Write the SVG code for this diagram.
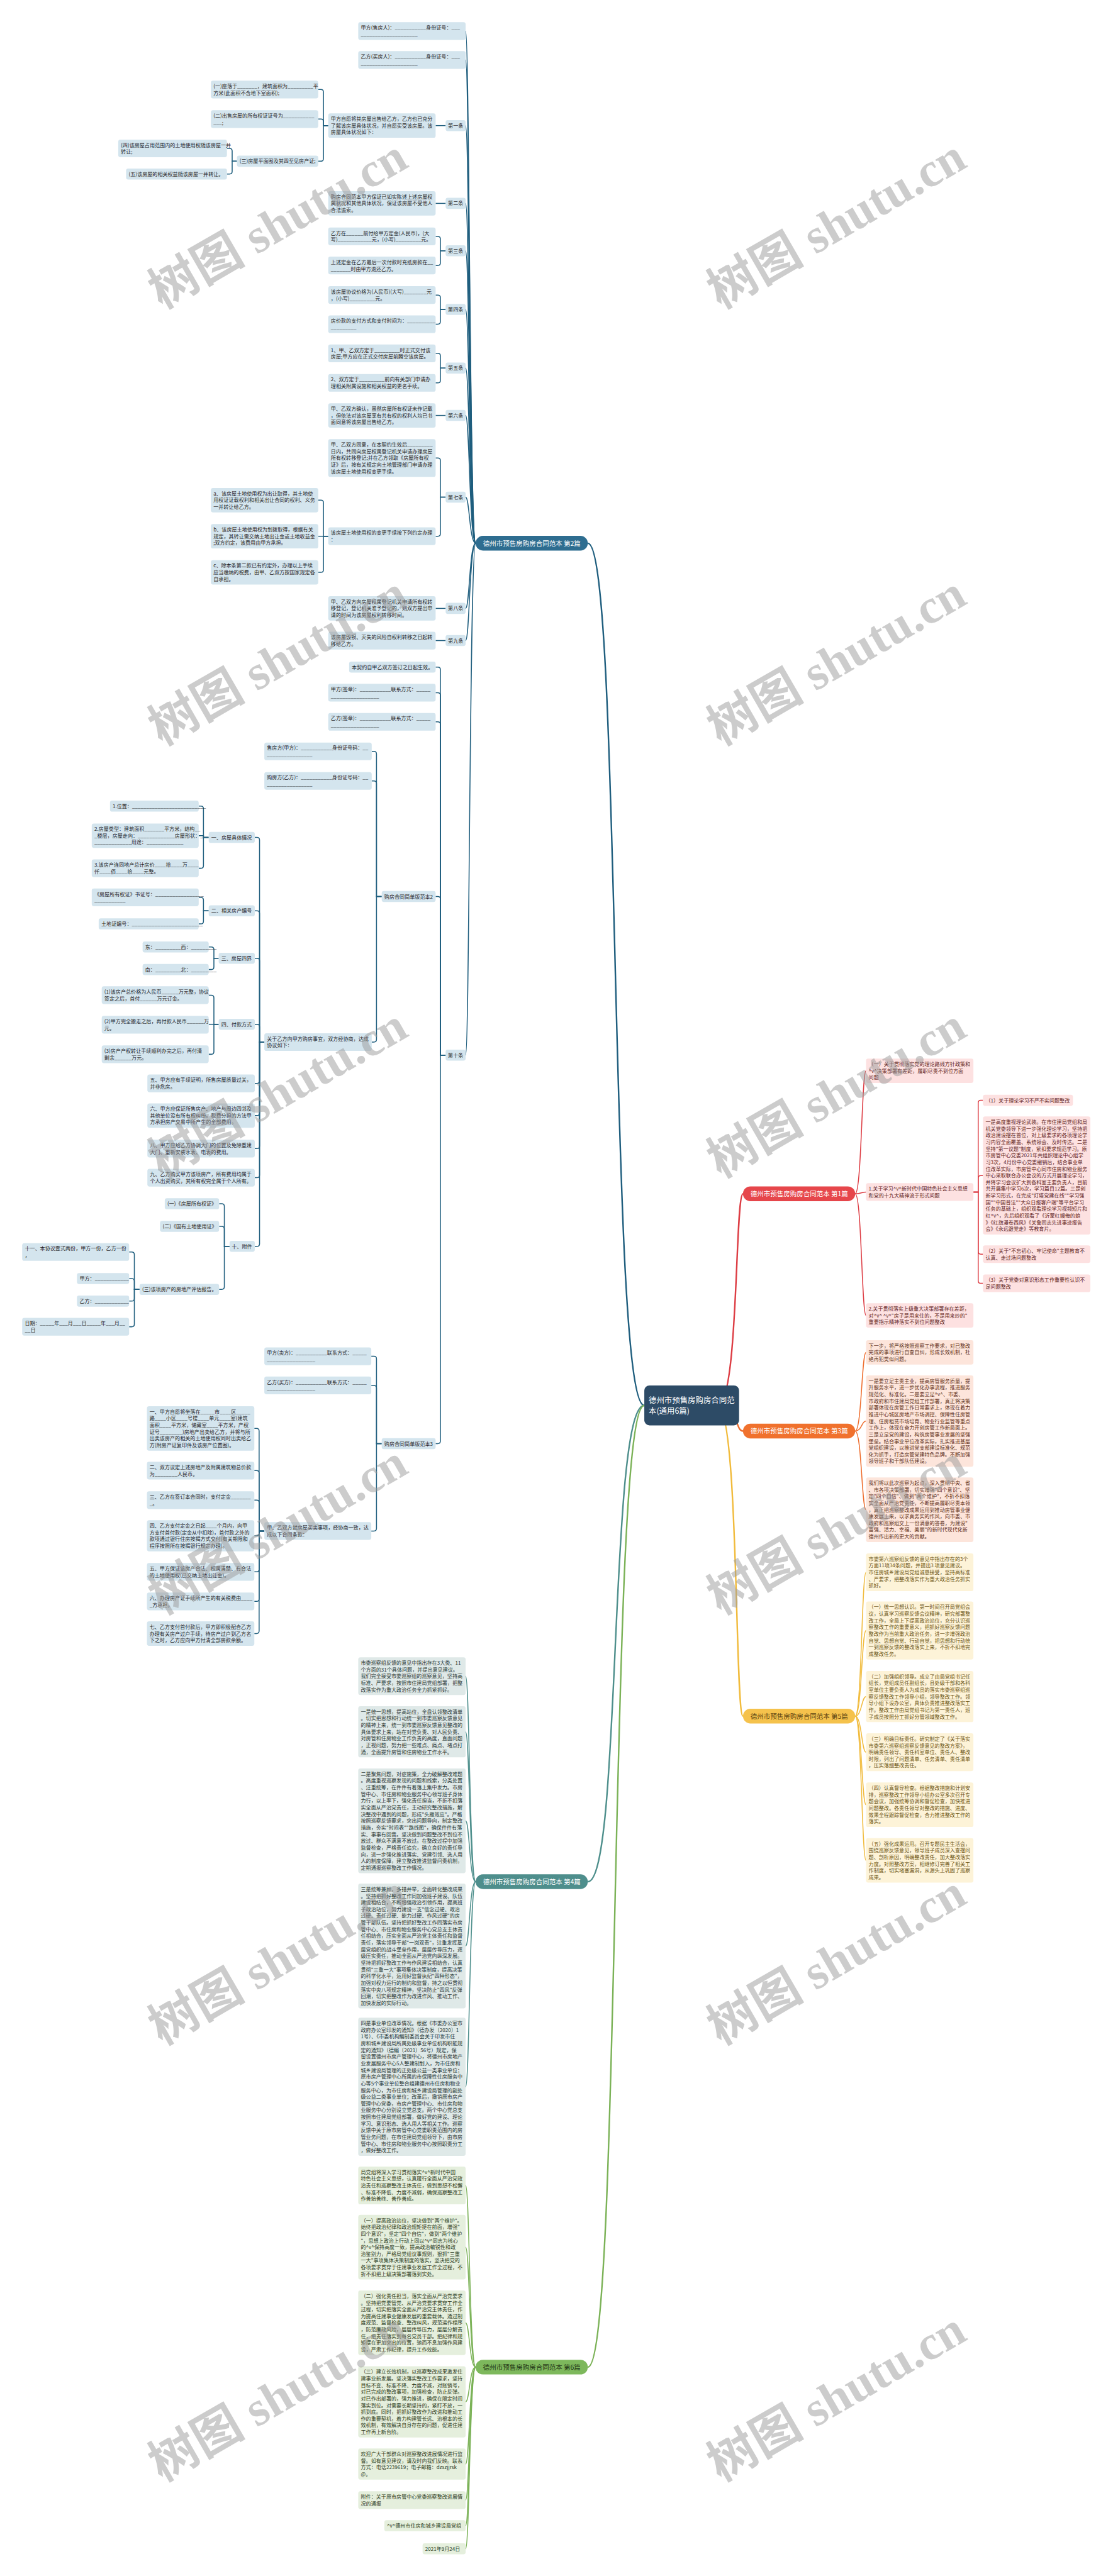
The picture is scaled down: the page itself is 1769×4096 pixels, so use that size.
<svg xmlns="http://www.w3.org/2000/svg" width="1769" height="4096" viewBox="0 0 1769 4096">
<style>
.t{font-family:"Noto Sans CJK SC","Noto Sans",sans-serif;font-size:11.7px}
.bt{font-family:"Noto Sans CJK SC","Noto Sans",sans-serif;font-size:15.2px}
.ct{font-family:"Noto Sans CJK SC","Noto Sans",sans-serif;font-size:18px;fill:#fff}
.k2 rect{fill:#d4e5ee}.k2 text{fill:#1f2326}
.k1 rect{fill:#fde1e1}.k1 text{fill:#5e2222}
.k3 rect{fill:#fde5db}.k3 text{fill:#5e2e18}
.k5 rect{fill:#fdf3d8}.k5 text{fill:#6a5212}
.k4 rect{fill:#dfe9e8}.k4 text{fill:#263636}
.k6 rect{fill:#e5efdd}.k6 text{fill:#2a3a20}
.cn path{fill:none;stroke-width:2.2}
.c2{stroke:#1f5e7e}.c1{stroke:#dd3d44}.c3{stroke:#ee6c2c}.c5{stroke:#f1bb3c}.c4{stroke:#4e8f8c}.c6{stroke:#7bb257}
.main path{stroke-width:3.5}
.wm text{font-family:"Liberation Serif","Noto Sans CJK SC",serif;font-size:112px;font-weight:700;fill:#9a9a9a;fill-opacity:.5;text-anchor:middle;dominant-baseline:middle}
</style>
<rect width="1769" height="4096" fill="#fff"/>
<g transform="scale(0.691)">
<g id="connectors" class="cn">
<g class="main">
<path class="c2" d="M1482 3234C1400 3234 1430 1250 1352 1250"/>
<path class="c4" d="M1482 3234C1400 3234 1430 4330 1352 4330"/>
<path class="c6" d="M1482 3234C1400 3234 1430 5447 1352 5447"/>
<path class="c1" d="M1650 3234C1700 3234 1690 2747 1709 2747"/>
<path class="c3" d="M1650 3234C1700 3234 1690 3293 1709 3293"/>
<path class="c5" d="M1650 3234C1700 3234 1690 3949 1709 3949"/>
</g>
<g class="c2">
<path d="M1094 1250C1080 1250 1080 71.5 1071 71.5"/>
<path d="M1094 1250C1080 1250 1080 138 1071 138"/>
<path d="M1094 1250C1080 1250 1080 289 1071 289"/>
<path d="M1094 1250C1080 1250 1080 468 1071 468"/>
<path d="M1094 1250C1080 1250 1080 577 1071 577"/>
<path d="M1094 1250C1080 1250 1080 712 1071 712"/>
<path d="M1094 1250C1080 1250 1080 847 1071 847"/>
<path d="M1094 1250C1080 1250 1080 956 1071 956"/>
<path d="M1094 1250C1080 1250 1080 1144 1071 1144"/>
<path d="M1094 1250C1080 1250 1080 1400 1071 1400"/>
<path d="M1094 1250C1080 1250 1080 1474 1071 1474"/>
<path d="M1094 1250C1080 1250 1080 2428 1071 2428"/>
<path d="M1025 289H1002"/>
<path d="M1025 468H1002"/>
<path d="M1025 577H1013V550Q1013 544 1007 544H1002"/>
<path d="M1025 577H1013V605Q1013 611 1007 611H1002"/>
<path d="M1025 712H1013V685Q1013 679 1007 679H1002"/>
<path d="M1025 712H1013V740Q1013 746 1007 746H1002"/>
<path d="M1025 847H1013V819Q1013 813 1007 813H1002"/>
<path d="M1025 847H1013V875Q1013 881 1007 881H1002"/>
<path d="M1025 956H1002"/>
<path d="M1025 1144H1013V1060Q1013 1054 1007 1054H1002"/>
<path d="M1025 1144H1013V1228Q1013 1234 1007 1234H1002"/>
<path d="M1025 1400H1002"/>
<path d="M1025 1474H1002"/>
<path d="M1025 2428H1013V1541Q1013 1535 1007 1535H1002"/>
<path d="M1025 2428H1013V1600Q1013 1594 1007 1594H1002"/>
<path d="M1025 2428H1013V1667Q1013 1661 1007 1661H1002"/>
<path d="M1025 2428H1013V2069Q1013 2063 1007 2063H1002"/>
<path d="M1025 2428H1013V3316Q1013 3322 1007 3322H1002"/>
<path d="M755 289H744V212Q744 206 738 206H732"/>
<path d="M755 289H744V280Q744 274 738 274H732"/>
<path d="M755 289H744V365Q744 371 738 371H732"/>
<path d="M545 371H534V347.5Q534 341.5 528 341.5H522"/>
<path d="M545 371H534V394.5Q534 400.5 528 400.5H522"/>
<path d="M755 1234H744V1157Q744 1151 738 1151H732"/>
<path d="M755 1234H732"/>
<path d="M755 1234H744V1311Q744 1317 738 1317H732"/>
<path d="M878 2063H866V1735Q866 1729 860 1729H855"/>
<path d="M878 2063H866V1803Q866 1797 860 1797H855"/>
<path d="M878 2063H866V2392Q866 2398 860 2398H855"/>
<path d="M608 2398H597V1933Q597 1927 591 1927H586"/>
<path d="M608 2398H597V2102Q597 2096 591 2096H586"/>
<path d="M608 2398H597V2211Q597 2205 591 2205H586"/>
<path d="M608 2398H597V2363Q597 2357 591 2357H586"/>
<path d="M608 2398H597V2487Q597 2493 591 2493H586"/>
<path d="M608 2398H597V2561Q597 2567 591 2567H586"/>
<path d="M608 2398H597V2637Q597 2643 591 2643H586"/>
<path d="M608 2398H597V2704Q597 2710 591 2710H586"/>
<path d="M608 2398H597V2862Q597 2868 591 2868H586"/>
<path d="M480 1927H468V1861Q468 1855 462 1855H457"/>
<path d="M480 1927H468V1923H457"/>
<path d="M480 1927H468V1992Q468 1998 462 1998H457"/>
<path d="M480 2096H468V2071Q468 2065 462 2065H457"/>
<path d="M480 2096H468V2120Q468 2126 462 2126H457"/>
<path d="M503 2205H492V2185Q492 2179 486 2179H480"/>
<path d="M503 2205H492V2225Q492 2231 486 2231H480"/>
<path d="M503 2357H492V2296Q492 2290 486 2290H480"/>
<path d="M503 2357H480"/>
<path d="M503 2357H492V2420Q492 2426 486 2426H480"/>
<path d="M528 2868H516V2776Q516 2770 510 2770H504"/>
<path d="M528 2868H516V2828Q516 2822 510 2822H504"/>
<path d="M528 2868H516V2961Q516 2967 510 2967H504"/>
<path d="M321 2967H309V2887Q309 2881 303 2881H297"/>
<path d="M321 2967H309V2948Q309 2942 303 2942H297"/>
<path d="M321 2967H309V2988Q309 2994 303 2994H297"/>
<path d="M321 2967H309V3047Q309 3053 303 3053H297"/>
<path d="M878 3322H866V3127Q866 3121 860 3121H854"/>
<path d="M878 3322H866V3194Q866 3188 860 3188H854"/>
<path d="M878 3322H866V3517Q866 3523 860 3523H854"/>
<path d="M608 3523H596V3293Q596 3287 590 3287H585"/>
<path d="M608 3523H596V3390Q596 3384 590 3384H585"/>
<path d="M608 3523H596V3458Q596 3452 590 3452H585"/>
<path d="M608 3523H596V3528Q596 3534 590 3534H585"/>
<path d="M608 3523H596V3611Q596 3617 590 3617H585"/>
<path d="M608 3523H596V3679Q596 3685 590 3685H585"/>
<path d="M608 3523H596V3753Q596 3759 590 3759H585"/>
</g>
<g class="c4">
<path d="M1094 4330C1080 4330 1080 3857 1071 3857"/>
<path d="M1094 4330C1080 4330 1080 3985 1071 3985"/>
<path d="M1094 4330C1080 4330 1080 4190 1071 4190"/>
<path d="M1094 4330C1080 4330 1080 4478 1071 4478"/>
<path d="M1094 4330C1080 4330 1080 4802 1071 4802"/>
</g>
<g class="c6">
<path d="M1094 5447C1080 5447 1080 5029 1071 5029"/>
<path d="M1094 5447C1080 5447 1080 5171 1071 5171"/>
<path d="M1094 5447C1080 5447 1080 5345 1071 5345"/>
<path d="M1094 5447C1080 5447 1080 5527 1071 5527"/>
<path d="M1094 5447C1080 5447 1080 5670 1071 5670"/>
<path d="M1094 5447C1080 5447 1080 5753 1071 5753"/>
<path d="M1094 5447C1080 5447 1080 5812 1071 5812"/>
<path d="M1094 5447C1080 5447 1080 5865 1071 5865"/>
</g>
<g class="c1">
<path d="M1967 2747C1982 2747 1982 2464 1992 2464"/>
<path d="M1967 2747C1982 2747 1982 2743 1992 2743"/>
<path d="M1967 2747C1982 2747 1982 3027 1992 3027"/>
<path d="M2239 2743H2250V2538Q2250 2532 2256 2532H2261"/>
<path d="M2239 2743H2250V2711Q2250 2705 2256 2705H2261"/>
<path d="M2239 2743H2250V2880Q2250 2886 2256 2886H2261"/>
<path d="M2239 2743H2250V2947Q2250 2953 2256 2953H2261"/>
</g>
<g class="c3">
<path d="M1967 3293C1982 3293 1982 3112 1992 3112"/>
<path d="M1967 3293C1982 3293 1982 3270 1992 3270"/>
<path d="M1967 3293C1982 3293 1982 3474 1992 3474"/>
</g>
<g class="c5">
<path d="M1967 3949C1982 3949 1982 3618 1992 3618"/>
<path d="M1967 3949C1982 3949 1982 3752 1992 3752"/>
<path d="M1967 3949C1982 3949 1982 3904 1992 3904"/>
<path d="M1967 3949C1982 3949 1982 4032 1992 4032"/>
<path d="M1967 3949C1982 3949 1982 4153 1992 4153"/>
<path d="M1967 3949C1982 3949 1982 4281 1992 4281"/>
</g>
</g>

<g id="root"><rect x="1482" y="3188" width="218" height="92" rx="12" fill="#2d4b66"/><text class="ct" y="3228"><tspan x="1492">德州市预售房购房合同范</tspan><tspan x="1492" dy="25">本(通用6篇)</tspan></text></g>

<g id="b2"><rect x="1094" y="1233" width="258" height="34" rx="17" fill="#2e6d90"/><text class="bt" x="1111" y="1255.5" fill="#fff">德州市预售房购房合同范本 第2篇</text></g>
<g id="b4"><rect x="1094" y="4313" width="258" height="34" rx="17" fill="#4e8e8c"/><text class="bt" x="1111" y="4335.5" fill="#fff">德州市预售房购房合同范本 第4篇</text></g>
<g id="b6"><rect x="1094" y="5430" width="258" height="34" rx="17" fill="#7db85c"/><text class="bt" x="1111" y="5452.5" fill="#1f3314">德州市预售房购房合同范本 第6篇</text></g>
<g id="b1"><rect x="1709" y="2730" width="258" height="34" rx="17" fill="#e6464b"/><text class="bt" x="1726" y="2752.5" fill="#fff">德州市预售房购房合同范本 第1篇</text></g>
<g id="b3"><rect x="1709" y="3276" width="258" height="34" rx="17" fill="#f0712d"/><text class="bt" x="1726" y="3298.5" fill="#fff">德州市预售房购房合同范本 第3篇</text></g>
<g id="b5"><rect x="1709" y="3932" width="258" height="34" rx="17" fill="#f5c24c"/><text class="bt" x="1726" y="3954.5" fill="#5a4210">德州市预售房购房合同范本 第5篇</text></g>

<g class="k2">
<g id="n2_1"><rect x="824" y="51.1" width="247" height="40.8" rx="5"/><text class="t" y="68.2"><tspan x="830">甲方(售房人)：___________身份证号：___</tspan><tspan x="830" dy="15.4">____________________</tspan></text></g>
<g id="n2_2"><rect x="824" y="117.6" width="247" height="40.8" rx="5"/><text class="t" y="134.7"><tspan x="830">乙方(买房人)：___________身份证号：___</tspan><tspan x="830" dy="15.4">____________________</tspan></text></g>
<g id="a1"><rect x="1025" y="276.3" width="46" height="25.4" rx="5"/><text class="t" x="1030.5" y="293.4">第一条</text></g>
<g id="a2"><rect x="1025" y="455.3" width="46" height="25.4" rx="5"/><text class="t" x="1030.5" y="472.4">第二条</text></g>
<g id="a3"><rect x="1025" y="564.3" width="46" height="25.4" rx="5"/><text class="t" x="1030.5" y="581.4">第三条</text></g>
<g id="a4"><rect x="1025" y="699.3" width="46" height="25.4" rx="5"/><text class="t" x="1030.5" y="716.4">第四条</text></g>
<g id="a5"><rect x="1025" y="834.3" width="46" height="25.4" rx="5"/><text class="t" x="1030.5" y="851.4">第五条</text></g>
<g id="a6"><rect x="1025" y="943.3" width="46" height="25.4" rx="5"/><text class="t" x="1030.5" y="960.4">第六条</text></g>
<g id="a7"><rect x="1025" y="1131.3" width="46" height="25.4" rx="5"/><text class="t" x="1030.5" y="1148.4">第七条</text></g>
<g id="a8"><rect x="1025" y="1387.3" width="46" height="25.4" rx="5"/><text class="t" x="1030.5" y="1404.4">第八条</text></g>
<g id="a9"><rect x="1025" y="1461.3" width="46" height="25.4" rx="5"/><text class="t" x="1030.5" y="1478.4">第九条</text></g>
<g id="a10"><rect x="1025" y="2415.3" width="46" height="25.4" rx="5"/><text class="t" x="1030.5" y="2432.4">第十条</text></g>

<g id="c1"><rect x="755" y="260.9" width="247" height="56.2" rx="5"/><text class="t" y="278"><tspan x="761">甲方自愿将其房屋出售给乙方，乙方也已充分</tspan><tspan x="761" dy="15.4">了解该房屋具体状况，并自愿买受该房屋。该</tspan><tspan x="761" dy="15.4">房屋具体状况如下：</tspan></text></g>
<g id="d1"><rect x="485" y="185.6" width="247" height="40.8" rx="5"/><text class="t" y="202.7"><tspan x="491">(一)座落于_______，建筑面积为_________平</tspan><tspan x="491" dy="15.4">方米(此面积不含地下室面积);</tspan></text></g>
<g id="d2"><rect x="485" y="253.6" width="247" height="40.8" rx="5"/><text class="t" y="270.7"><tspan x="491">(二)出售房屋的所有权证证号为___________</tspan><tspan x="491" dy="15.4">___;</tspan></text></g>
<g id="d3"><rect x="545" y="358.3" width="187" height="25.4" rx="5"/><text class="t" x="551" y="375.4">(三)房屋平面图及其四至见房产证;</text></g>
<g id="e1"><rect x="272" y="321.1" width="250" height="40.8" rx="5"/><text class="t" y="338.2"><tspan x="278">(四)该房屋占用范围内的土地使用权随该房屋一并</tspan><tspan x="278" dy="15.4">转让;</tspan></text></g>
<g id="e2"><rect x="290" y="387.8" width="232" height="25.4" rx="5"/><text class="t" x="296" y="404.9">(五)该房屋的相关权益随该房屋一并转让。</text></g>
<g id="c2"><rect x="755" y="439.9" width="247" height="56.2" rx="5"/><text class="t" y="457"><tspan x="761">购房合同范本甲方保证已如实陈述上述房屋权</tspan><tspan x="761" dy="15.4">属状况和其他具体状况，保证该房屋不受他人</tspan><tspan x="761" dy="15.4">合法追索。</tspan></text></g>
<g id="c3a"><rect x="755" y="523.6" width="247" height="40.8" rx="5"/><text class="t" y="540.7"><tspan x="761">乙方在______前付给甲方定金(人民币)，(大</tspan><tspan x="761" dy="15.4">写)____________元，(小写)_________元。</tspan></text></g>
<g id="c3b"><rect x="755" y="590.6" width="247" height="40.8" rx="5"/><text class="t" y="607.7"><tspan x="761">上述定金在乙方最后一次付款时充抵房款在__</tspan><tspan x="761" dy="15.4">_______时由甲方退还乙方。</tspan></text></g>
<g id="c4a"><rect x="755" y="658.6" width="247" height="40.8" rx="5"/><text class="t" y="675.7"><tspan x="761">该房屋协议价格为(人民币)(大写)________元</tspan><tspan x="761" dy="15.4">，(小写)_________元。</tspan></text></g>
<g id="c4b"><rect x="755" y="725.6" width="247" height="40.8" rx="5"/><text class="t" y="742.7"><tspan x="761">房价款的支付方式和支付时间为：__________</tspan><tspan x="761" dy="15.4">_________</tspan></text></g>
<g id="c5a"><rect x="755" y="792.6" width="247" height="40.8" rx="5"/><text class="t" y="809.7"><tspan x="761">1、甲、乙双方定于_________时正式交付该</tspan><tspan x="761" dy="15.4">房屋;甲方应在正式交付房屋前腾空该房屋。</tspan></text></g>
<g id="c5b"><rect x="755" y="860.6" width="247" height="40.8" rx="5"/><text class="t" y="877.7"><tspan x="761">2、双方定于_________前向有关部门申请办</tspan><tspan x="761" dy="15.4">理相关附属设施和相关权益的更名手续。</tspan></text></g>
<g id="c6"><rect x="755" y="927.9" width="247" height="56.2" rx="5"/><text class="t" y="945"><tspan x="761">甲、乙双方确认，虽然房屋所有权证未作记载</tspan><tspan x="761" dy="15.4">，但依法对该房屋享有共有权的权利人均已书</tspan><tspan x="761" dy="15.4">面同意将该房屋出售给乙方。</tspan></text></g>
<g id="c7a"><rect x="755" y="1010.5" width="247" height="87" rx="5"/><text class="t" y="1027.6"><tspan x="761">甲、乙双方同意，在本契约生效后_________</tspan><tspan x="761" dy="15.4">日内，共同向房屋权属登记机关申请办理房屋</tspan><tspan x="761" dy="15.4">所有权转移登记;并在乙方领取《房屋所有权</tspan><tspan x="761" dy="15.4">证》后，按有关规定向土地管理部门申请办理</tspan><tspan x="761" dy="15.4">该房屋土地使用权变更手续。</tspan></text></g>
<g id="c7b"><rect x="755" y="1213.6" width="247" height="40.8" rx="5"/><text class="t" y="1230.7"><tspan x="761">该房屋土地使用权的变更手续按下列约定办理</tspan><tspan x="761" dy="15.4">：</tspan></text></g>
<g id="f1"><rect x="485" y="1122.9" width="247" height="56.2" rx="5"/><text class="t" y="1140"><tspan x="491">a、该房屋土地使用权为出让取得，其土地使</tspan><tspan x="491" dy="15.4">用权证证载权利和相关出让合同的权利、义务</tspan><tspan x="491" dy="15.4">一并转让给乙方。</tspan></text></g>
<g id="f2"><rect x="485" y="1205.9" width="247" height="56.2" rx="5"/><text class="t" y="1223"><tspan x="491">b、该房屋土地使用权为划拨取得，根据有关</tspan><tspan x="491" dy="15.4">规定，其转让需交纳土地出让金或土地收益金</tspan><tspan x="491" dy="15.4">;双方约定，该费用由甲方承担。</tspan></text></g>
<g id="f3"><rect x="485" y="1288.9" width="247" height="56.2" rx="5"/><text class="t" y="1306"><tspan x="491">c、除本条第二款已有约定外，办理以上手续</tspan><tspan x="491" dy="15.4">应当缴纳的税费，由甲、乙双方按国家规定各</tspan><tspan x="491" dy="15.4">自承担。</tspan></text></g>
<g id="c8"><rect x="755" y="1371.9" width="247" height="56.2" rx="5"/><text class="t" y="1389"><tspan x="761">甲、乙双方向房屋权属登记机关申请所有权转</tspan><tspan x="761" dy="15.4">移登记，登记机关准予登记的，则双方提出申</tspan><tspan x="761" dy="15.4">请的时间为该房屋权利转移时间。</tspan></text></g>
<g id="c9"><rect x="755" y="1453.6" width="247" height="40.8" rx="5"/><text class="t" y="1470.7"><tspan x="761">该房屋毁损、灭失的风险自权利转移之日起转</tspan><tspan x="761" dy="15.4">移给乙方。</tspan></text></g>
<g id="c10a"><rect x="803" y="1522.3" width="199" height="25.4" rx="5"/><text class="t" x="809" y="1539.4">本契约自甲乙双方签订之日起生效。</text></g>
<g id="c10b"><rect x="755" y="1573.6" width="247" height="40.8" rx="5"/><text class="t" y="1590.7"><tspan x="761">甲方(签章)：___________联系方式：_____</tspan><tspan x="761" dy="15.4">_________________</tspan></text></g>
<g id="c10c"><rect x="755" y="1640.6" width="247" height="40.8" rx="5"/><text class="t" y="1657.7"><tspan x="761">乙方(签章)：___________联系方式：_____</tspan><tspan x="761" dy="15.4">_________________</tspan></text></g>
<g id="c10d"><rect x="878" y="2050.3" width="124" height="25.4" rx="5"/><text class="t" x="884" y="2067.4">购房合同简单版范本2</text></g>
<g id="c10e"><rect x="878" y="3309.3" width="124" height="25.4" rx="5"/><text class="t" x="884" y="3326.4">购房合同简单版范本3</text></g>
<g id="g1"><rect x="608" y="1708.6" width="247" height="40.8" rx="5"/><text class="t" y="1725.7"><tspan x="614">售房方(甲方)：___________身份证号码：__</tspan><tspan x="614" dy="15.4">________________</tspan></text></g>
<g id="g2"><rect x="608" y="1776.6" width="247" height="40.8" rx="5"/><text class="t" y="1793.7"><tspan x="614">购房方(乙方)：___________身份证号码：__</tspan><tspan x="614" dy="15.4">________________</tspan></text></g>
<g id="g3"><rect x="608" y="2377.6" width="247" height="40.8" rx="5"/><text class="t" y="2394.7"><tspan x="614">关于乙方向甲方购房事宜，双方经协商，达成</tspan><tspan x="614" dy="15.4">协议如下：</tspan></text></g>
<g id="h1"><rect x="480" y="1914.3" width="106" height="25.4" rx="5"/><text class="t" x="486" y="1931.4">一、房屋具体情况</text></g>
<g id="h2"><rect x="480" y="2083.3" width="106" height="25.4" rx="5"/><text class="t" x="486" y="2100.4">二、相关房产编号</text></g>
<g id="h3"><rect x="503" y="2192.3" width="83" height="25.4" rx="5"/><text class="t" x="509" y="2209.4">三、房屋四界</text></g>
<g id="h4"><rect x="503" y="2344.3" width="83" height="25.4" rx="5"/><text class="t" x="509" y="2361.4">四、付款方式</text></g>
<g id="h5"><rect x="339" y="2472.6" width="247" height="40.8" rx="5"/><text class="t" y="2489.7"><tspan x="345">五、甲方应有手续证明，所售房屋质量过关，</tspan><tspan x="345" dy="15.4">并非危房。</tspan></text></g>
<g id="h6"><rect x="339" y="2538.9" width="247" height="56.2" rx="5"/><text class="t" y="2556"><tspan x="345">六、甲方应保证所售房产、地产与周边四邻及</tspan><tspan x="345" dy="15.4">其他单位没有所有权纠纷。税费分担的方法甲</tspan><tspan x="345" dy="15.4">方承担房产交易中所产生的全部费用。</tspan></text></g>
<g id="h7"><rect x="339" y="2622.6" width="247" height="40.8" rx="5"/><text class="t" y="2639.7"><tspan x="345">八、甲方应给乙方协调大门的位置及免除重建</tspan><tspan x="345" dy="15.4">大门、重新安装水表、电表的费用。</tspan></text></g>
<g id="h8"><rect x="339" y="2689.6" width="247" height="40.8" rx="5"/><text class="t" y="2706.7"><tspan x="345">九、乙方购买甲方该项房产，所有费用均属于</tspan><tspan x="345" dy="15.4">个人出资购买，其所有权完全属于个人所有。</tspan></text></g>
<g id="h9"><rect x="528" y="2855.3" width="58" height="25.4" rx="5"/><text class="t" x="533" y="2872.4">十、附件</text></g>
<g id="i1"><rect x="253" y="1842.3" width="204" height="25.4" rx="5"/><text class="t" x="259" y="1859.4">1.位置：__________________________</text></g>
<g id="i2"><rect x="211" y="1894.9" width="246" height="56.2" rx="5"/><text class="t" y="1912"><tspan x="217">2.房屋类型：建筑面积_______平方米，结构__</tspan><tspan x="217" dy="15.4">_楼层，房屋走向：_____________房屋形状：_</tspan><tspan x="217" dy="15.4">_____________用途：_____________</tspan></text></g>
<g id="i3"><rect x="211" y="1977.6" width="246" height="40.8" rx="5"/><text class="t" y="1994.7"><tspan x="217">3.该房产连同地产总计房价____拾____万____</tspan><tspan x="217" dy="15.4">仟____佰____拾____元整。</tspan></text></g>
<g id="i4"><rect x="211" y="2044.6" width="246" height="40.8" rx="5"/><text class="t" y="2061.7"><tspan x="217">《房屋所有权证》书证号：_________________</tspan><tspan x="217" dy="15.4">___________</tspan></text></g>
<g id="i5"><rect x="227" y="2113.3" width="230" height="25.4" rx="5"/><text class="t" x="233" y="2130.4">土地证编号：_________________________</text></g>
<g id="i6"><rect x="328" y="2166.3" width="152" height="25.4" rx="5"/><text class="t" x="334" y="2183.4">东：_________西：_________</text></g>
<g id="i7"><rect x="328" y="2218.3" width="152" height="25.4" rx="5"/><text class="t" x="334" y="2235.4">南：_________北：_________</text></g>
<g id="i8"><rect x="234" y="2269.6" width="246" height="40.8" rx="5"/><text class="t" y="2286.7"><tspan x="240">(1)该房产总价格为人民币______万元整，协议</tspan><tspan x="240" dy="15.4">签定之后，首付______万元订金。</tspan></text></g>
<g id="i9"><rect x="234" y="2337.6" width="246" height="40.8" rx="5"/><text class="t" y="2354.7"><tspan x="240">(2)甲方完全搬走之后，再付款人民币______万</tspan><tspan x="240" dy="15.4">元。</tspan></text></g>
<g id="i10"><rect x="234" y="2405.6" width="246" height="40.8" rx="5"/><text class="t" y="2422.7"><tspan x="240">(3)房产产权转让手续顺利办完之后，再付清</tspan><tspan x="240" dy="15.4">剩余______万元。</tspan></text></g>
<g id="j1"><rect x="379" y="2757.3" width="125" height="25.4" rx="5"/><text class="t" x="385" y="2774.4">(一)《房屋所有权证》</text></g>
<g id="j2"><rect x="368" y="2809.3" width="136" height="25.4" rx="5"/><text class="t" x="374" y="2826.4">(二)《国有土地使用证》</text></g>
<g id="j3"><rect x="321" y="2954.3" width="183" height="25.4" rx="5"/><text class="t" x="327" y="2971.4">(三)该项房产的房地产评估报告。</text></g>
<g id="k1"><rect x="51" y="2860.6" width="246" height="40.8" rx="5"/><text class="t" y="2877.7"><tspan x="57">十一、本协议壹式两份，甲方一份，乙方一份</tspan><tspan x="57" dy="15.4">，</tspan></text></g>
<g id="k2"><rect x="177" y="2929.3" width="120" height="25.4" rx="5"/><text class="t" x="183" y="2946.4">甲方：____________</text></g>
<g id="k3"><rect x="177" y="2981.3" width="120" height="25.4" rx="5"/><text class="t" x="183" y="2998.4">乙方：____________</text></g>
<g id="k4"><rect x="51" y="3032.6" width="246" height="40.8" rx="5"/><text class="t" y="3049.7"><tspan x="57">日期：_____年___月___日_____年___月__</tspan><tspan x="57" dy="15.4">__日</tspan></text></g>
<g id="l1"><rect x="608" y="3100.6" width="246" height="40.8" rx="5"/><text class="t" y="3117.7"><tspan x="614">甲方(卖方)：___________联系方式：_____</tspan><tspan x="614" dy="15.4">_________________</tspan></text></g>
<g id="l2"><rect x="608" y="3167.6" width="246" height="40.8" rx="5"/><text class="t" y="3184.7"><tspan x="614">乙方(买方)：___________联系方式：_____</tspan><tspan x="614" dy="15.4">_________________</tspan></text></g>
<g id="l3"><rect x="608" y="3502.6" width="246" height="40.8" rx="5"/><text class="t" y="3519.7"><tspan x="614">甲、乙双方就房屋买卖事项，经协商一致，达</tspan><tspan x="614" dy="15.4">成以下合同条款：</tspan></text></g>
<g id="m1"><rect x="338" y="3235.8" width="247" height="102.4" rx="5"/><text class="t" y="3252.9"><tspan x="344">一、甲方自愿将坐落在_____市____区_____</tspan><tspan x="344" dy="15.4">路____小区____号楼____单元____室(建筑</tspan><tspan x="344" dy="15.4">面积____平方米，储藏室____平方米，产权</tspan><tspan x="344" dy="15.4">证号________)房地产出卖给乙方，并将与所</tspan><tspan x="344" dy="15.4">出卖该房产的相关的土地使用权同时出卖给乙</tspan><tspan x="344" dy="15.4">方(附房产证复印件及该房产位置图)。</tspan></text></g>
<g id="m2"><rect x="338" y="3363.6" width="247" height="40.8" rx="5"/><text class="t" y="3380.7"><tspan x="344">二、双方议定上述房地产及附属建筑物总价款</tspan><tspan x="344" dy="15.4">为________人民币。</tspan></text></g>
<g id="m3"><rect x="338" y="3431.6" width="247" height="40.8" rx="5"/><text class="t" y="3448.7"><tspan x="344">三、乙方在签订本合同时，支付定金_______</tspan><tspan x="344" dy="15.4">_。</tspan></text></g>
<g id="m4"><rect x="338" y="3498.2" width="247" height="71.6" rx="5"/><text class="t" y="3515.3"><tspan x="344">四、乙方支付定金之日起____个月内，向甲</tspan><tspan x="344" dy="15.4">方支付首付款(定金从中扣除)，首付款之外的</tspan><tspan x="344" dy="15.4">款项通过银行住房按揭方式交付(有关期限和</tspan><tspan x="344" dy="15.4">程序按照所在按揭银行规定办理)。</tspan></text></g>
<g id="m5"><rect x="338" y="3596.6" width="247" height="40.8" rx="5"/><text class="t" y="3613.7"><tspan x="344">五、甲方保证该房产合法、权属清楚、有合法</tspan><tspan x="344" dy="15.4">的土地使用权(已交纳土地出让金)。</tspan></text></g>
<g id="m6"><rect x="338" y="3664.6" width="247" height="40.8" rx="5"/><text class="t" y="3681.7"><tspan x="344">六、办理房产证手续所产生的有关税费由____</tspan><tspan x="344" dy="15.4">_方承担。</tspan></text></g>
<g id="m7"><rect x="338" y="3730.9" width="247" height="56.2" rx="5"/><text class="t" y="3748"><tspan x="344">七、乙方支付首付款后，甲方即积极配合乙方</tspan><tspan x="344" dy="15.4">办理有关房产过户手续，待房产过户到乙方名</tspan><tspan x="344" dy="15.4">下之时，乙方应向甲方付清全部房款余额。</tspan></text></g>
</g>

<g class="k4">
<g id="p1"><rect x="824" y="3813.5" width="247" height="87" rx="5"/><text class="t" y="3830.6"><tspan x="830">市委巡察组反馈的意见中指出存在3大类、11</tspan><tspan x="830" dy="15.4">个方面的31个具体问题，并提出意见建议。</tspan><tspan x="830" dy="15.4">我们完全接受市委巡察组的巡察意见，坚持高</tspan><tspan x="830" dy="15.4">标准、严要求，按照市住建局党组部署，把整</tspan><tspan x="830" dy="15.4">改落实作为重大政治任务全力抓紧抓好。</tspan></text></g>
<g id="p2"><rect x="824" y="3926.1" width="247" height="117.8" rx="5"/><text class="t" y="3943.2"><tspan x="830">一是统一思想，提高站位，全盘认领整改清单</tspan><tspan x="830" dy="15.4">。切实把思想和行动统一到市委巡察反馈意见</tspan><tspan x="830" dy="15.4">的精神上来，统一到市委巡察反馈意见整改的</tspan><tspan x="830" dy="15.4">具体要求上来，站在对党负责、对人民负责、</tspan><tspan x="830" dy="15.4">对房管和住房物业工作负责的高度，直面问题</tspan><tspan x="830" dy="15.4">，正视问题，努力把一些难点、痛点、堵点打</tspan><tspan x="830" dy="15.4">通，全面提升房管和住房物业工作水平。</tspan></text></g>
<g id="p3"><rect x="824" y="4069.5" width="247" height="241" rx="5"/><text class="t" y="4086.6"><tspan x="830">二是聚焦问题，对症施策，全力破解整改难题</tspan><tspan x="830" dy="15.4">。高度重视巡察发现的问题和线索，分类处置</tspan><tspan x="830" dy="15.4">、注重统筹，在件件有着落上集中发力。市房</tspan><tspan x="830" dy="15.4">管中心、市住房和物业服务中心领导班子身体</tspan><tspan x="830" dy="15.4">力行，以上率下，强化责任担当，不折不扣落</tspan><tspan x="830" dy="15.4">实全面从严治党责任，主动研究整改措施，解</tspan><tspan x="830" dy="15.4">决整改中遇到的问题，形成"头雁效应"。严格</tspan><tspan x="830" dy="15.4">按照巡察反馈要求，突出问题导向，制定整改</tspan><tspan x="830" dy="15.4">措施，夯实"时间表""路线图"，确保件件有落</tspan><tspan x="830" dy="15.4">实、事事有回音。坚决做到问题整改不到位不</tspan><tspan x="830" dy="15.4">放过、群众不满意不放过。在整改过程中加强</tspan><tspan x="830" dy="15.4">监督检查，严格责任追究，确立良好的责任导</tspan><tspan x="830" dy="15.4">向，进一步强化推进落实、党建引领、选人用</tspan><tspan x="830" dy="15.4">人的制度保障，建立整改推进监督问责机制，</tspan><tspan x="830" dy="15.4">定期通报巡察整改工作情况。</tspan></text></g>
<g id="p4"><rect x="824" y="4334.4" width="247" height="287.2" rx="5"/><text class="t" y="4351.5"><tspan x="830">三是统筹兼顾，多措并举，全面转化整改成果</tspan><tspan x="830" dy="15.4">。坚持把抓好整改工作同加强班子建设、队伍</tspan><tspan x="830" dy="15.4">建设相结合，不断增强政治引领作用，提高班</tspan><tspan x="830" dy="15.4">子政治站位，努力建设一支"信念过硬、政治</tspan><tspan x="830" dy="15.4">过硬、责任过硬、能力过硬、作风过硬"的房</tspan><tspan x="830" dy="15.4">管干部队伍。坚持把抓好整改工作同落实市房</tspan><tspan x="830" dy="15.4">管中心、市住房和物业服务中心党总支主体责</tspan><tspan x="830" dy="15.4">任相结合，压实全面从严治党主体责任和监督</tspan><tspan x="830" dy="15.4">责任，落实领导干部"一岗双责"，注重发挥基</tspan><tspan x="830" dy="15.4">层党组织的战斗堡垒作用，层层传导压力，逐</tspan><tspan x="830" dy="15.4">级压实责任，推动全面从严治党向纵深发展。</tspan><tspan x="830" dy="15.4">坚持把抓好整改工作与作风建设相结合，认真</tspan><tspan x="830" dy="15.4">贯彻"三重一大"事项集体决策制度，提高决策</tspan><tspan x="830" dy="15.4">的科学化水平，运用好监督执纪"四种形态"，</tspan><tspan x="830" dy="15.4">加强对权力运行的制约和监督，持之以恒贯彻</tspan><tspan x="830" dy="15.4">落实中央八项规定精神，坚决防止"四风"反弹</tspan><tspan x="830" dy="15.4">回潮，切实把整改作为改进作风、推动工作、</tspan><tspan x="830" dy="15.4">加快发展的实际行动。</tspan></text></g>
<g id="p5"><rect x="824" y="4643" width="247" height="318" rx="5"/><text class="t" y="4660.1"><tspan x="830">四是事业单位改革情况。根据《市委办公室市</tspan><tspan x="830" dy="15.4">政府办公室印发的通知》（德办发〔2020〕1</tspan><tspan x="830" dy="15.4">1号）、《市委机构编制委员会关于印发市住</tspan><tspan x="830" dy="15.4">房和城乡建设局所属处级事业单位机构职能规</tspan><tspan x="830" dy="15.4">定的通知》（德编〔2021〕56号）规定，保</tspan><tspan x="830" dy="15.4">留设置德州市房产管理中心，将德州市房地产</tspan><tspan x="830" dy="15.4">业发展服务中心5人整建制划入，为市住房和</tspan><tspan x="830" dy="15.4">城乡建设局管理的正处级公益一类事业单位；</tspan><tspan x="830" dy="15.4">原市房产管理中心所属的市保障性住房服务中</tspan><tspan x="830" dy="15.4">心等5个事业单位整合组建德州市住房和物业</tspan><tspan x="830" dy="15.4">服务中心，为市住房和城乡建设局管理的副处</tspan><tspan x="830" dy="15.4">级公益二类事业单位；改革后，撤销原市房产</tspan><tspan x="830" dy="15.4">管理中心党委，市房产管理中心、市住房和物</tspan><tspan x="830" dy="15.4">业服务中心分别设立党总支。两个中心党总支</tspan><tspan x="830" dy="15.4">按照市住建局党组部署，做好党的建设、理论</tspan><tspan x="830" dy="15.4">学习、意识形态、选人用人等相关工作。巡察</tspan><tspan x="830" dy="15.4">反馈中关于原市房管中心党委职责范围内的房</tspan><tspan x="830" dy="15.4">管业务问题，在市住建局党组领导下，由市房</tspan><tspan x="830" dy="15.4">管中心、市住房和物业服务中心按照职责分工</tspan><tspan x="830" dy="15.4">，做好整改工作。</tspan></text></g>
</g>

<g class="k6">
<g id="q1"><rect x="824" y="4985.5" width="247" height="87" rx="5"/><text class="t" y="5002.6"><tspan x="830">局党组将深入学习贯彻落实^v^新时代中国</tspan><tspan x="830" dy="15.4">特色社会主义思想，认真履行全面从严治党政</tspan><tspan x="830" dy="15.4">治责任和巡察整改主体责任，做到思想不松懈</tspan><tspan x="830" dy="15.4">、标准不降低、力度不减弱，确保巡察整改工</tspan><tspan x="830" dy="15.4">作善始善终、善作善成。</tspan></text></g>
<g id="q2"><rect x="824" y="5096.7" width="247" height="148.6" rx="5"/><text class="t" y="5113.8"><tspan x="830">（一）提高政治站位，坚决做到"两个维护"。</tspan><tspan x="830" dy="15.4">始终把政治纪律和政治规矩挺在前面，增强"</tspan><tspan x="830" dy="15.4">四个意识"，坚定"四个自信"，做到"两个维护</tspan><tspan x="830" dy="15.4">"，思想上政治上行动上同以^v^同志为核心</tspan><tspan x="830" dy="15.4">的^v^保持高度一致，提高政治敏锐性和政</tspan><tspan x="830" dy="15.4">治鉴别力，严格局党组议事规则，狠抓"三重</tspan><tspan x="830" dy="15.4">一大"事项集体决策制度的落实，坚决把党的</tspan><tspan x="830" dy="15.4">各项要求贯穿于住建事业发展工作全过程，不</tspan><tspan x="830" dy="15.4">折不扣把上级决策部署落到实处。</tspan></text></g>
<g id="q3"><rect x="824" y="5270.7" width="247" height="148.6" rx="5"/><text class="t" y="5287.8"><tspan x="830">（二）强化责任担当，落实全面从严治党要求</tspan><tspan x="830" dy="15.4">。坚持把党要管党、从严治党要求贯穿工作全</tspan><tspan x="830" dy="15.4">过程，切实把落实全面从严治党主体责任，作</tspan><tspan x="830" dy="15.4">为提高住建事业健康发展的重要载体。通过制</tspan><tspan x="830" dy="15.4">度规范、监督检查、整改纠风，规范运作程序</tspan><tspan x="830" dy="15.4">，防范廉政风险，层层传导压力，层层分解责</tspan><tspan x="830" dy="15.4">任，把责任落实到每名党员干部。把纪律和规</tspan><tspan x="830" dy="15.4">矩摆在更加突出的位置，驰而不息加强作风建</tspan><tspan x="830" dy="15.4">设，严肃工作纪律，提升工作效能。</tspan></text></g>
<g id="q4"><rect x="824" y="5445" width="247" height="164" rx="5"/><text class="t" y="5462.1"><tspan x="830">（三）建立长效机制，以巡察整改成果激发住</tspan><tspan x="830" dy="15.4">建事业新发展。坚决落实整改工作要求，坚持</tspan><tspan x="830" dy="15.4">目标不变、标准不降、力度不减，对账销号，</tspan><tspan x="830" dy="15.4">对已完成的整改事项，加强检查，防止反弹。</tspan><tspan x="830" dy="15.4">对已作出部署的，强力推进，确保在限定时间</tspan><tspan x="830" dy="15.4">落实到位。对需要长期坚持的，紧盯不放，一</tspan><tspan x="830" dy="15.4">抓到底。同时，把抓好整改作为改进和推动工</tspan><tspan x="830" dy="15.4">作的重要契机，着力构建管长远、治根本的长</tspan><tspan x="830" dy="15.4">效机制，有效解决自身存在的问题，促进住建</tspan><tspan x="830" dy="15.4">工作再上新台阶。</tspan></text></g>
<g id="q5"><rect x="824" y="5634.2" width="247" height="71.6" rx="5"/><text class="t" y="5651.3"><tspan x="830">欢迎广大干部群众对巡察整改进展情况进行监</tspan><tspan x="830" dy="15.4">督。如有意见建议，请及时向我们反映。联系</tspan><tspan x="830" dy="15.4">方式：电话2239619；电子邮箱：dzszjjrsk</tspan><tspan x="830" dy="15.4">@。</tspan></text></g>
<g id="q6"><rect x="824" y="5732.6" width="247" height="40.8" rx="5"/><text class="t" y="5749.7"><tspan x="830">附件：关于原市房管中心党委巡察整改进展情</tspan><tspan x="830" dy="15.4">况的通报</tspan></text></g>
<g id="q7"><rect x="884" y="5799.3" width="187" height="25.4" rx="5"/><text class="t" x="890" y="5816.4">^v^德州市住房和城乡建设局党组</text></g>
<g id="q8"><rect x="972" y="5852.3" width="99" height="25.4" rx="5"/><text class="t" x="978" y="5869.4">2021年9月24日</text></g>
</g>

<g class="k1">
<g id="r1"><rect x="1992" y="2435.9" width="247" height="56.2" rx="5"/><text class="t" y="2453"><tspan x="1998">（一）关于贯彻落实党的理论路线方针政策和</tspan><tspan x="1998" dy="15.4">^v^决策部署有差距，履职尽责不到位方面</tspan><tspan x="1998" dy="15.4">问题</tspan></text></g>
<g id="r2"><rect x="1992" y="2722.6" width="247" height="40.8" rx="5"/><text class="t" y="2739.7"><tspan x="1998">1.关于学习^v^新时代中国特色社会主义思想</tspan><tspan x="1998" dy="15.4">和党的十九大精神流于形式问题</tspan></text></g>
<g id="r3"><rect x="1992" y="2998.9" width="247" height="56.2" rx="5"/><text class="t" y="3016"><tspan x="1998">2.关于贯彻落实上级重大决策部署存在差距，</tspan><tspan x="1998" dy="15.4">对^v^ ^v^"房子是用来住的，不是用来炒的"</tspan><tspan x="1998" dy="15.4">重要指示精神落实不到位问题整改</tspan></text></g>
<g id="s1"><rect x="2261" y="2519.3" width="207" height="25.4" rx="5"/><text class="t" x="2267" y="2536.4">（1）关于理论学习不严不实问题整改</text></g>
<g id="s2"><rect x="2261" y="2569.1" width="247" height="271.8" rx="5"/><text class="t" y="2586.2"><tspan x="2267">一是高度重视理论武装。在市住建局党组和局</tspan><tspan x="2267" dy="15.4">机关党委领导下进一步强化理论学习，坚持把</tspan><tspan x="2267" dy="15.4">政治建设摆在首位，对上级要求的各项理论学</tspan><tspan x="2267" dy="15.4">习内容全面覆盖、系统领会、及时传达。二是</tspan><tspan x="2267" dy="15.4">坚持"第一议题"制度，紧扣要求规范学习。原</tspan><tspan x="2267" dy="15.4">市房管中心党委2021年共组织理论中心组学</tspan><tspan x="2267" dy="15.4">习3次，4月份中心党委撤销后，结合事业单</tspan><tspan x="2267" dy="15.4">位改革实际，市房管中心同市住房和物业服务</tspan><tspan x="2267" dy="15.4">中心采取联合办公会议的方式开展理论学习，</tspan><tspan x="2267" dy="15.4">并将学习会议扩大到各科室主要负责人，目前</tspan><tspan x="2267" dy="15.4">共开展集中学习6次，学习篇目12篇。三是创</tspan><tspan x="2267" dy="15.4">新学习形式，在完成"灯塔党建在线""学习强</tspan><tspan x="2267" dy="15.4">国""中国普法""大众日报客户端"等平台学习</tspan><tspan x="2267" dy="15.4">任务的基础上，组织观看理论学习视频短片和</tspan><tspan x="2267" dy="15.4">红^v^，先后组织观看了《沂蒙红嫂俺的娘</tspan><tspan x="2267" dy="15.4">》《红旗漫卷西风》《关鲁同志先进事迹报告</tspan><tspan x="2267" dy="15.4">会》《永远跟党走》等教育片。</tspan></text></g>
<g id="s3"><rect x="2261" y="2865.6" width="247" height="40.8" rx="5"/><text class="t" y="2882.7"><tspan x="2267">（2）关于"不忘初心、牢记使命"主题教育不</tspan><tspan x="2267" dy="15.4">认真、走过场问题整改</tspan></text></g>
<g id="s4"><rect x="2261" y="2932.6" width="247" height="40.8" rx="5"/><text class="t" y="2949.7"><tspan x="2267">（3）关于党委对意识形态工作重要性认识不</tspan><tspan x="2267" dy="15.4">足问题整改</tspan></text></g>
</g>

<g class="k3">
<g id="t1"><rect x="1992" y="3083.9" width="247" height="56.2" rx="5"/><text class="t" y="3101"><tspan x="1998">下一步，将严格按照巡察工作要求，对已整改</tspan><tspan x="1998" dy="15.4">完成的事项进行自查自纠，形成长效机制，杜</tspan><tspan x="1998" dy="15.4">绝再犯类似问题。</tspan></text></g>
<g id="t2"><rect x="1992" y="3164.9" width="247" height="210.2" rx="5"/><text class="t" y="3182"><tspan x="1998">一是要立足主责主业，提高房管服务质量，提</tspan><tspan x="1998" dy="15.4">升服务水平，进一步优化办事流程，推进服务</tspan><tspan x="1998" dy="15.4">规范化、标准化。二是要立足^v^、市委、</tspan><tspan x="1998" dy="15.4">市政府和市住建局党组工作部署，真正将决策</tspan><tspan x="1998" dy="15.4">部署体现在房管工作日常要求上，体现在着力</tspan><tspan x="1998" dy="15.4">推进中心城区房地产市场调控、保障性住房管</tspan><tspan x="1998" dy="15.4">理、住房租赁市场培育、物业行业监管等重点</tspan><tspan x="1998" dy="15.4">工作上，体现在奋力开创房管工作新局面上。</tspan><tspan x="1998" dy="15.4">三是立足党的建设，构筑房管事业发展的坚强</tspan><tspan x="1998" dy="15.4">堡垒。结合事业单位改革实际，扎实推进基层</tspan><tspan x="1998" dy="15.4">党组织建设，以推进党支部建设标准化、规范</tspan><tspan x="1998" dy="15.4">化为抓手，打造房管党建特色品牌。不断加强</tspan><tspan x="1998" dy="15.4">领导班子和干部队伍建设。</tspan></text></g>
<g id="t3"><rect x="1992" y="3399.7" width="247" height="148.6" rx="5"/><text class="t" y="3416.8"><tspan x="1998">我们将以此次巡察为起点，深入贯彻中央、省</tspan><tspan x="1998" dy="15.4">、市各项决策部署，切实增强"四个意识"、坚</tspan><tspan x="1998" dy="15.4">定"四个自信"、做到"两个维护"，不折不扣落</tspan><tspan x="1998" dy="15.4">实全面从严治党责任，不断提高履职尽责本领</tspan><tspan x="1998" dy="15.4">，真正把巡察整改成果运用到推动房管事业健</tspan><tspan x="1998" dy="15.4">康发展上来，以求真务实的作风，向市委、市</tspan><tspan x="1998" dy="15.4">政府和巡察组交上一份满意的答卷，为建设"</tspan><tspan x="1998" dy="15.4">富强、活力、幸福、美丽"的新时代现代化新</tspan><tspan x="1998" dy="15.4">德州作出新的更大的贡献。</tspan></text></g>
</g>

<g class="k5">
<g id="u1"><rect x="1992" y="3574.5" width="247" height="87" rx="5"/><text class="t" y="3591.6"><tspan x="1998">市委第六巡察组反馈的意见中指出存在的3个</tspan><tspan x="1998" dy="15.4">方面11项34条问题，并提出3 项意见建议。</tspan><tspan x="1998" dy="15.4">市住房城乡建设局党组诚恳接受，坚持高标准</tspan><tspan x="1998" dy="15.4">、严要求，把整改落实作为重大政治任务抓实</tspan><tspan x="1998" dy="15.4">抓好。</tspan></text></g>
<g id="u2"><rect x="1992" y="3685.4" width="247" height="133.2" rx="5"/><text class="t" y="3702.5"><tspan x="1998">（一）统一思想认识。第一时间召开局党组会</tspan><tspan x="1998" dy="15.4">议，认真学习巡察反馈会议精神，研究部署整</tspan><tspan x="1998" dy="15.4">改工作，全局上下提高政治站位，充分认识巡</tspan><tspan x="1998" dy="15.4">察整改工作的重要意义，把抓好巡察反馈问题</tspan><tspan x="1998" dy="15.4">整改作为当前重大政治任务，进一步增强政治</tspan><tspan x="1998" dy="15.4">自觉、思想自觉、行动自觉，把思想和行动统</tspan><tspan x="1998" dy="15.4">一到巡察反馈的整改落实上来，不折不扣地完</tspan><tspan x="1998" dy="15.4">成整改任务。</tspan></text></g>
<g id="u3"><rect x="1992" y="3845.1" width="247" height="117.8" rx="5"/><text class="t" y="3862.2"><tspan x="1998">（二）加强组织领导。成立了由局党组书记任</tspan><tspan x="1998" dy="15.4">组长，党组成员任副组长，县处级干部和各科</tspan><tspan x="1998" dy="15.4">室单位主要负责人为成员的落实市委巡察组巡</tspan><tspan x="1998" dy="15.4">察反馈整改工作领导小组，领导整改工作。领</tspan><tspan x="1998" dy="15.4">导小组下设办公室，具体负责推进整改落实工</tspan><tspan x="1998" dy="15.4">作。整改工作由局党组书记为第一责任人，班</tspan><tspan x="1998" dy="15.4">子成员按照分工抓好分管领域整改工作。</tspan></text></g>
<g id="u4"><rect x="1992" y="3988.5" width="247" height="87" rx="5"/><text class="t" y="4005.6"><tspan x="1998">（三）明确目标责任。研究制定了《关于落实</tspan><tspan x="1998" dy="15.4">市委第六巡察组巡察反馈意见的整改方案》，</tspan><tspan x="1998" dy="15.4">明确责任领导、责任科室单位、责任人、整改</tspan><tspan x="1998" dy="15.4">时限，列出了问题清单、任务清单、责任清单</tspan><tspan x="1998" dy="15.4">，压实落细整改责任。</tspan></text></g>
<g id="u5"><rect x="1992" y="4101.8" width="247" height="102.4" rx="5"/><text class="t" y="4118.9"><tspan x="1998">（四）认真督导检查。根据整改措施和计划安</tspan><tspan x="1998" dy="15.4">排，巡察整改工作领导小组办公室多次召开专</tspan><tspan x="1998" dy="15.4">题会议，加强统筹协调和督促检查，加快推进</tspan><tspan x="1998" dy="15.4">问题整改。各责任领导对整改的措施、进度、</tspan><tspan x="1998" dy="15.4">效果全程跟踪督促检查，合力推进整改工作的</tspan><tspan x="1998" dy="15.4">落实。</tspan></text></g>
<g id="u6"><rect x="1992" y="4229.8" width="247" height="102.4" rx="5"/><text class="t" y="4246.9"><tspan x="1998">（五）强化成果运用。召开专题民主生活会，</tspan><tspan x="1998" dy="15.4">围绕巡察反馈意见，领导班子成员深入查摆问</tspan><tspan x="1998" dy="15.4">题、剖析原因，明确整改责任，加大整改落实</tspan><tspan x="1998" dy="15.4">力度。对照整改方案，相继修订完善了相关工</tspan><tspan x="1998" dy="15.4">作制度，切实堵塞漏洞，从源头上巩固了巡察</tspan><tspan x="1998" dy="15.4">成果。</tspan></text></g>
</g>

<g class="wm">
<text transform="translate(645 525) rotate(-30)">树图 shutu.cn</text>
<text transform="translate(1930 525) rotate(-30)">树图 shutu.cn</text>
<text transform="translate(645 1530) rotate(-30)">树图 shutu.cn</text>
<text transform="translate(1930 1530) rotate(-30)">树图 shutu.cn</text>
<text transform="translate(645 2525) rotate(-30)">树图 shutu.cn</text>
<text transform="translate(1930 2525) rotate(-30)">树图 shutu.cn</text>
<text transform="translate(645 3530) rotate(-30)">树图 shutu.cn</text>
<text transform="translate(1930 3530) rotate(-30)">树图 shutu.cn</text>
<text transform="translate(645 4520) rotate(-30)">树图 shutu.cn</text>
<text transform="translate(1930 4520) rotate(-30)">树图 shutu.cn</text>
<text transform="translate(645 5525) rotate(-30)">树图 shutu.cn</text>
<text transform="translate(1930 5525) rotate(-30)">树图 shutu.cn</text>
</g>
</g>
</svg>
